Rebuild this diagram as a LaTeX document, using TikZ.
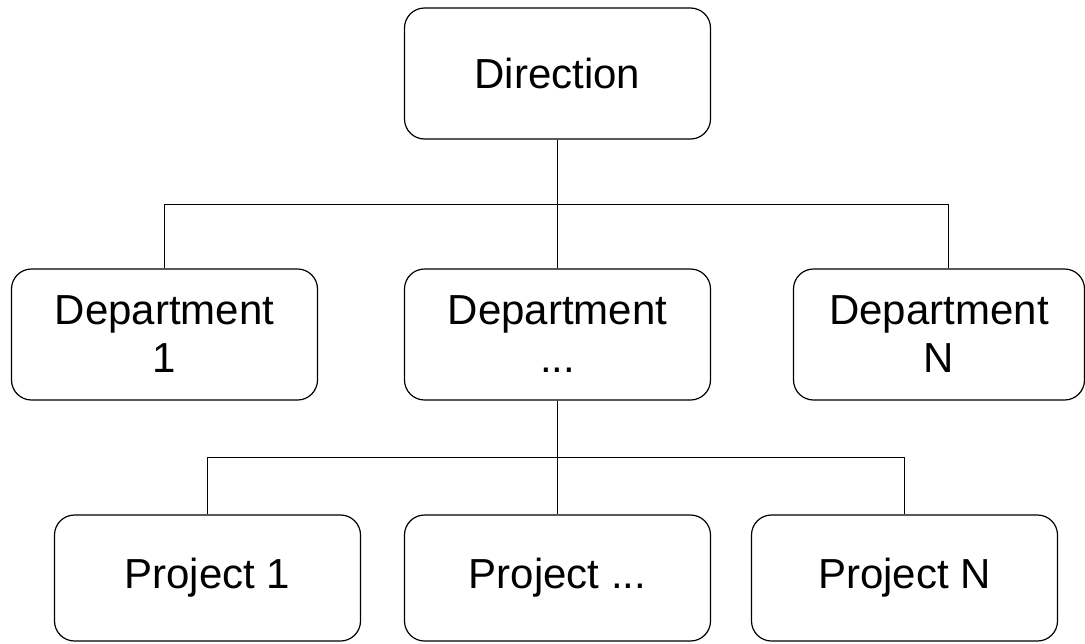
\documentclass[tikz,border=0pt]{standalone}
\usepackage{fontspec}
\setmainfont{Liberation Sans}
\usepackage{tikz}
\usetikzlibrary{positioning, calc}
\tikzstyle{unit} = [rectangle, rounded corners=10pt, minimum width=153pt, minimum height=65.5pt, text centered, align=center, draw=black, line width=0.6pt, fill=white, font=\fontsize{21pt}{24pt}\selectfont]
\tikzstyle{project} = [unit, minimum height=63pt]
\tikzstyle{link} = [line width=0.5pt, draw=black]

\begin{document}
\begin{tikzpicture}[x=0.5pt, y=-0.5pt, node distance=130.5pt]
		\useasboundingbox (0,0) rectangle (1085,643);
		\node (dir) [unit] at (557.5,73.5) {Direction};
		\node (ddots) [unit, below of=dir] {Department\\...};
		\node (d1) [unit, left of=ddots, node distance=196.5pt] {Department\\1};
		\node (dN) [unit, right of=ddots, node distance=190.75pt, minimum width=145.5pt] {Department\\N};
		\node (pdots) [project, below of=ddots, node distance=121.75pt] {Project ...};
		\node (p1) [project, left of=pdots, node distance=175pt] {Project 1};
		\node (pN) [project, right of=pdots, node distance=173.5pt] {Project N};

		\coordinate (bus1) at ($(dir.south)!0.5!(ddots.north)$);
		\coordinate (bus2) at ($(ddots.south)!0.5!(pdots.north)$);

		\draw [link] (dir.south) -- (bus1);
		\draw [link] (bus1) -| (d1.north);
		\draw [link] (bus1) -- (ddots.north);
		\draw [link] (bus1) -| ([xshift=4.75pt]dN.north);
		\draw [link] (ddots.south) -- (bus2);
		\draw [link] (bus2) -| (p1.north);
		\draw [link] (bus2) -- (pdots.north);
		\draw [link] (bus2) -| (pN.north);
		\end{tikzpicture}
\end{document}
